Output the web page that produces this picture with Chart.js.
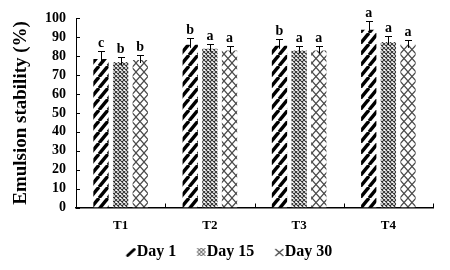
<!DOCTYPE html>
<html>
<head>
<meta charset="utf-8">
<style>
	html, body { margin: 0; padding: 0; background: white; }
	#wrap { width: 450px; height: 270px; }
</style>
</head>
<body>
<div id="wrap"><canvas id="grafico" width="450" height="270"></canvas></div>

<script src="https://cdn.jsdelivr.net/npm/chart.js"></script>
<script>
	// dados
	var tratamentos = ['T1', 'T2', 'T3', 'T4'];
	var day1 = [78.5, 86, 85.5, 94];
	var day15 = [77, 84, 83, 87.5];
	var day30 = [78, 83, 83, 86];
	var erroDay1 = [4, 3.5, 3.5, 4.5];
	var erroDay15 = [2.5, 2.5, 2.5, 3];
	var erroDay30 = [2.5, 2.5, 2.5, 2.5];
	var letrasDay1 = ['c', 'b', 'b', 'a'];
	var letrasDay15 = ['b', 'a', 'a', 'a'];
	var letrasDay30 = ['b', 'a', 'a', 'a'];
	var yTicks = [0, 10, 20, 30, 40, 50, 60, 70, 80, 90, 100];

	var fonte = "'Liberation Serif', 'Times New Roman', serif";
	var ctx = document.getElementById('grafico').getContext('2d');

	function tile(w, h, desenha, transparente) {
		var c = document.createElement('canvas');
		c.width = w; c.height = h;
		var g = c.getContext('2d');
		if (!transparente) {
			g.fillStyle = '#fff';
			g.fillRect(0, 0, w, h);
		}
		desenha(g, w, h);
		return c;
	}

	// listras diagonais pretas
	var tileListras = tile(9, 11, function(g, w, h) {
		g.strokeStyle = '#000';
		g.lineWidth = 3.4;
		for (var k = -1; k <= 1; k++) {
			g.beginPath();
			g.moveTo(k * w, h);
			g.lineTo(k * w + w, 0);
			g.stroke();
		}
	});
	function xis(cor, lw) {
		return function(g, w, h) {
			g.strokeStyle = cor;
			g.lineWidth = lw;
			g.beginPath();
			g.moveTo(0, 0); g.lineTo(w, h);
			g.moveTo(w, 0); g.lineTo(0, h);
			g.stroke();
		};
	}
	var tileDenso = tile(4, 4, xis('#333', 1.1));
	var tileXis = tile(8, 9, xis('#4a4a4a', 1.2));

	var padListras = ctx.createPattern(tileListras, 'repeat');
	var padDenso = ctx.createPattern(tileDenso, 'repeat');
	var padXis = ctx.createPattern(tileXis, 'repeat');

	// icones da legenda (desenhados perto do texto)
	var larguraIcone = 16;
	var LI = 48;
	var cx = LI / 2 + larguraIcone / 2 + 2.5;
	var icone1 = tile(LI, 14, function(g) {
		g.strokeStyle = '#000'; g.lineWidth = 3; g.lineCap = 'round';
		g.beginPath(); g.moveTo(cx - 3.5, 10.5); g.lineTo(cx + 3, 4.5); g.stroke();
	}, true);
	var icone15 = tile(LI, 14, function(g) {
		g.strokeStyle = '#444'; g.lineWidth = 1;
		g.beginPath();
		g.moveTo(cx - 4, 3); g.lineTo(cx + 4, 11); g.moveTo(cx + 4, 3); g.lineTo(cx - 4, 11);
		g.moveTo(cx - 4, 7); g.lineTo(cx, 3); g.lineTo(cx + 4, 7); g.lineTo(cx, 11); g.closePath();
		g.stroke();
	}, true);
	var icone30 = tile(LI, 14, function(g) {
		g.strokeStyle = '#444'; g.lineWidth = 1.2;
		g.beginPath(); g.moveTo(cx - 4, 4); g.lineTo(cx + 4, 11); g.moveTo(cx + 4, 4); g.lineTo(cx - 4, 11); g.stroke();
	}, true);

	var erros = [erroDay1, erroDay15, erroDay30];
	var letras = [letrasDay1, letrasDay15, letrasDay30];

	// barras de erro, letras e marcas internas dos eixos
	var extras = {
		id: 'extras',
		afterDatasetsDraw: function(chart) {
			var c = chart.ctx;
			var y = chart.scales.y;
			c.save();
			chart.data.datasets.forEach(function(ds, i) {
				var meta = chart.getDatasetMeta(i);
				meta.data.forEach(function(bar, j) {
					var topo = Math.round(y.getPixelForValue(ds.data[j] + erros[i][j])) + 0.5;
					var bx = Math.round(bar.x) + 0.5;
					c.strokeStyle = '#000';
					c.lineWidth = 1;
					c.beginPath();
					c.moveTo(bx, bar.y + 3);
					c.lineTo(bx, topo);
					c.moveTo(bx - 3.5, topo);
					c.lineTo(bx + 3.5, topo);
					c.stroke();
					c.fillStyle = '#000';
					c.font = 'bold 14px ' + fonte;
					c.textAlign = 'center';
					c.textBaseline = 'bottom';
					c.fillText(letras[i][j], bar.x, topo - 1);
				});
			});
			c.restore();
		},
		afterDraw: function(chart) {
			var c = chart.ctx;
			var x = chart.scales.x, y = chart.scales.y;
			var area = chart.chartArea;
			c.save();
			c.strokeStyle = '#000';
			c.lineWidth = 1;
			c.beginPath();
			yTicks.forEach(function(v) {
				var py = Math.round(y.getPixelForValue(v)) + 0.5;
				c.moveTo(area.left, py);
				c.lineTo(area.left + 4, py);
			});
			var passo = x.getPixelForValue(1) - x.getPixelForValue(0);
			for (var i = 0; i < tratamentos.length; i++) {
				var px = Math.round(x.getPixelForValue(i) + passo / 2) + 0.5;
				c.moveTo(px, area.bottom);
				c.lineTo(px, area.bottom - 4);
			}
			c.stroke();
			c.restore();
		}
	};

	new Chart(ctx, {
		type: 'bar',
		data: {
			labels: tratamentos,
			datasets: [
				{ label: 'Day 1', data: day1, backgroundColor: padListras, pointStyle: icone1 },
				{ label: 'Day 15', data: day15, backgroundColor: padDenso, pointStyle: icone15 },
				{ label: 'Day 30', data: day30, backgroundColor: padXis, pointStyle: icone30 }
			]
		},
		options: {
			responsive: false,
			animation: false,
			devicePixelRatio: 1,
			categoryPercentage: 0.66,
			barPercentage: 0.78,
			layout: { padding: { top: 16, right: 17, left: 12, bottom: 0 } },
			scales: {
				x: {
					grid: { display: false, drawTicks: false },
					border: { color: '#000', width: 1.5 },
					ticks: { color: '#000', padding: 10, font: { family: fonte, size: 13, weight: 'bold' } },
					afterFit: function(s) { s.height = 30; }
				},
				y: {
					min: 0, max: 100,
					grid: { display: false, drawTicks: false },
					border: { color: '#000', width: 1 },
					ticks: { stepSize: 10, autoSkip: false, color: '#000', padding: 10, font: { family: fonte, size: 14, weight: 'bold' } },
					title: { display: true, text: 'Emulsion stability (%)', color: '#000', padding: { top: -2, bottom: 0 }, font: { family: fonte, size: 19, weight: 'bold' } },
					afterFit: function(s) { s.width = 64; }
				}
			},
			plugins: {
				legend: {
					position: 'bottom',
					labels: {
						usePointStyle: true,
						pointStyleWidth: larguraIcone,
						color: '#000',
						padding: 6.5,
						font: { family: fonte, size: 16, weight: 'bold' }
					}
				},
				tooltip: { enabled: false }
			}
		},
		plugins: [extras]
	});
</script>
</body>
</html>
